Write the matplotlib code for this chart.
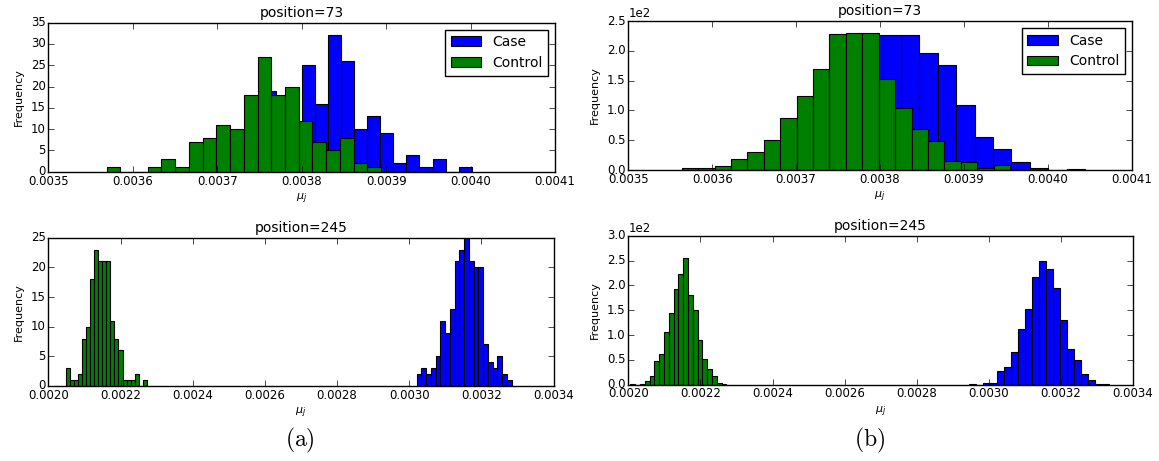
import numpy as np
import matplotlib
matplotlib.use('Agg')
import matplotlib.pyplot as plt
from matplotlib.ticker import FormatStrFormatter, MultipleLocator

plt.style.use('classic')

# bin counts (20 bins per histogram) and the range each histogram spans
# (a) position=73
case_a73 = [1, 2, 4, 8, 19, 13, 11, 25, 16, 32, 26, 10, 13, 9, 2, 4, 1, 3, 0, 1]
case_a73_rng = (0.0036916, 0.0040014)
ctrl_a73 = [1, 0, 0, 1, 3, 1, 7, 8, 11, 10, 18, 27, 18, 20, 12, 7, 5, 8, 2, 1]
ctrl_a73_rng = (0.003569, 0.003894)

# (b) position=73
case_b73 = [2, 3, 5, 10, 20, 40, 80, 150, 226, 227, 227, 196, 176, 109, 56, 35, 14, 4, 0, 2]
case_b73_rng = (0.0036057, 0.0040443)
ctrl_b73 = [3, 3, 6, 18, 30, 50, 87, 125, 169, 228, 230, 230, 152, 104, 69, 49, 15, 13, 4, 8]
ctrl_b73_rng = (0.0035636, 0.003955)

# (a) position=245
case_a245 = [2, 3, 2, 3, 5, 11, 9, 13, 21, 23, 25, 21, 20, 20, 7, 4, 3, 5, 2, 1]
case_a245_rng = (0.0030205, 0.0032837)
ctrl_a245 = [3, 1, 1, 2, 8, 10, 18, 23, 21, 21, 21, 11, 8, 6, 1, 1, 1, 2, 0, 1]
ctrl_a245_rng = (0.002049, 0.0022726)

# (b) position=245
case_b245 = [1, 0, 3, 4, 28, 36, 66, 112, 153, 216, 250, 232, 195, 130, 71, 49, 22, 9, 2, 1]
case_b245_rng = (0.0029452, 0.0033325)
ctrl_b245 = [2, 0, 1, 7, 17, 47, 62, 107, 144, 193, 222, 256, 181, 150, 91, 52, 31, 17, 3, 1]
ctrl_b245_rng = (0.0020055, 0.0022722)


def hist_from_counts(ax, counts, rng, color, label):
    edges = np.linspace(rng[0], rng[1], len(counts) + 1)
    mids = 0.5 * (edges[:-1] + edges[1:])
    ax.hist(mids, bins=edges, weights=counts, color=color, edgecolor='k',
            linewidth=0.8, label=label)


def panel(rect, case, case_rng, ctrl, ctrl_rng, title, xlim, xstep, ylim, ystep,
          sci=False, legend=False):
    ax = fig.add_axes(rect)
    hist_from_counts(ax, case, case_rng, '#0000ff', 'Case')
    hist_from_counts(ax, ctrl, ctrl_rng, '#008000', 'Control')
    ax.set_xlim(*xlim)
    ax.set_ylim(*ylim)
    ax.xaxis.set_major_locator(MultipleLocator(xstep))
    ax.xaxis.set_major_formatter(FormatStrFormatter('%.4f'))
    ax.yaxis.set_major_locator(MultipleLocator(ystep))
    if sci:
        ax.ticklabel_format(axis='y', style='sci', scilimits=(0, 0))
        ax.yaxis.get_offset_text().set_fontsize(8.5)
    ax.tick_params(labelsize=8.5, direction='in', length=4, pad=2)
    ax.set_title(title, fontsize=10, pad=4)
    ax.set_ylabel('Frequency', fontsize=8)
    ax.set_xlabel(r'$\mu_j$', fontsize=8, labelpad=3, math_fontfamily='dejavusans')
    if legend:
        ax.legend(loc='upper right', fontsize=10, fancybox=False, handlelength=2.2,
                  handleheight=0.7, borderaxespad=0.5, frameon=True,
                  edgecolor='k')
    return ax


fig = plt.figure(figsize=(11.59, 4.61), dpi=100, facecolor='white')

panel([0.0417, 0.6275, 0.4372, 0.3233], case_a73, case_a73_rng, ctrl_a73, ctrl_a73_rng,
      'position=73', (0.0035, 0.0041), 0.0001, (0, 35), 5, legend=True)
panel([0.5421, 0.6312, 0.4344, 0.3232], case_b73, case_b73_rng, ctrl_b73, ctrl_b73_rng,
      'position=73', (0.0035, 0.0041), 0.0001, (0, 250), 50, sci=True, legend=True)
panel([0.0417, 0.1627, 0.4360, 0.3217], case_a245, case_a245_rng, ctrl_a245, ctrl_a245_rng,
      'position=245', (0.0020, 0.0034), 0.0002, (0, 25), 5)
panel([0.5421, 0.1655, 0.4355, 0.3232], case_b245, case_b245_rng, ctrl_b245, ctrl_b245_rng,
      'position=245', (0.0020, 0.0034), 0.0002, (0, 300), 50, sci=True)

fig.text(0.2588, 0.045, r'$\mathrm{(a)}$', fontsize=17, ha='center', va='center',
         math_fontfamily='cm')
fig.text(0.7506, 0.045, r'$\mathrm{(b)}$', fontsize=17, ha='center', va='center',
         math_fontfamily='cm')

fig.savefig('out.png', dpi=100, facecolor='white')
